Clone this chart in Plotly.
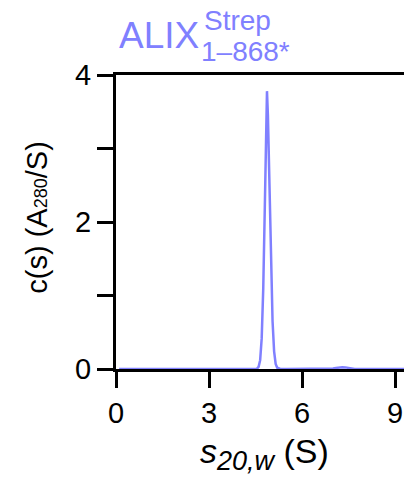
import plotly.graph_objects as go

s_values = [0.1, 0.3, 0.5, 0.7, 0.9, 1.1, 1.3, 1.5, 1.7, 1.9, 2.1, 2.3, 2.5, 2.7, 2.9, 3.1, 3.3, 3.5,
            3.7, 3.9, 4.1, 4.3, 4.5, 4.55, 4.6, 4.65, 4.7, 4.75, 4.8, 4.85, 4.87, 4.9, 4.95, 5.0,
            5.05, 5.1, 5.15, 5.2, 5.25, 5.3, 5.5, 5.7, 5.9, 6.1, 6.3, 6.5, 6.7, 6.9, 7.0, 7.1,
            7.2, 7.3, 7.4, 7.5, 7.6, 7.7, 7.9, 8.1, 8.3, 8.5, 8.7, 8.9, 9.1, 9.3]
c_values = [0.0, 0.0, 0.0, 0.008, 0.0, 0.0, 0.0, 0.0, 0.0, 0.0, 0.008, 0.0, 0.0, 0.006, 0.0, 0.008,
            0.0, 0.0, 0.008, 0.0, 0.0, 0.0, 0.0, 0.005, 0.03, 0.12, 0.42, 1.1, 2.2, 3.4, 3.78, 3.45,
            2.45, 1.4, 0.65, 0.24, 0.07, 0.018, 0.004, 0.0, 0.0, 0.0, 0.0, 0.0, 0.0, 0.0, 0.0, 0.0,
            0.006, 0.014, 0.022, 0.025, 0.022, 0.013, 0.004, 0.0, 0.0, 0.0, 0.0, 0.0, 0.0, 0.0, 0.0, 0.0]
x_ticks = [0, 3, 6, 9]
y_ticks = [0, 2, 4]
y_minor_ticks = [1, 3]

color = "#8080ff"
font = "Liberation Sans, Arial, sans-serif"

fig = go.Figure()
fig.add_trace(go.Scatter(x=s_values, y=c_values, mode="lines",
                         line=dict(color=color, width=2.5), hoverinfo="skip"))

fig.update_layout(
    width=404, height=480,
    margin=dict(l=116, r=0, t=75, b=111),
    paper_bgcolor="white", plot_bgcolor="white",
    showlegend=False,
    font=dict(family=font, color="black"),
)
fig.update_xaxes(range=[0, 9.29], tickvals=x_ticks, ticktext=[str(t) for t in x_ticks],
                 showline=True, linecolor="black", linewidth=3, mirror=True,
                 ticks="outside", ticklen=16, tickwidth=3, tickcolor="black",
                 showgrid=False, zeroline=False, tickfont=dict(size=29, family=font))
fig.update_yaxes(range=[0, 4], tickvals=y_ticks, ticktext=[str(t) for t in y_ticks],
                 showline=True, linecolor="black", linewidth=3,
                 ticks="outside", ticklen=16, tickwidth=3, tickcolor="black",
                 minor=dict(tickvals=y_minor_ticks, ticks="outside", ticklen=16,
                            tickwidth=3, tickcolor="black", showgrid=False),
                 showgrid=False, zeroline=False, tickfont=dict(size=29, family=font))

annotations = [
    dict(text="ALIX", x=0.004, y=1.133, xanchor="left", yanchor="middle",
         font=dict(size=37, color=color, family=font)),
    dict(text="Strep", x=0.300, y=1.187, xanchor="left", yanchor="middle",
         font=dict(size=28, color=color, family=font)),
    dict(text="1–868*", x=0.288, y=1.080, xanchor="left", yanchor="middle",
         font=dict(size=28, color=color, family=font)),
    dict(text="c(s) (A<span style='font-size:18px'>280</span>/S)", x=-0.275, y=0.514,
         xanchor="center", yanchor="middle", textangle=-90,
         font=dict(size=29, color="black", family=font)),
    dict(text="<i>s</i><sub><i><span style='font-size:27px'>20,w</span></i></sub> (S)",
         x=0.517, y=-0.29, xanchor="center", yanchor="middle",
         font=dict(size=34, color="black", family=font)),
]
for a in annotations:
    a.update(xref="paper", yref="paper", showarrow=False)
fig.update_layout(annotations=annotations)

fig.write_html("out.html")
